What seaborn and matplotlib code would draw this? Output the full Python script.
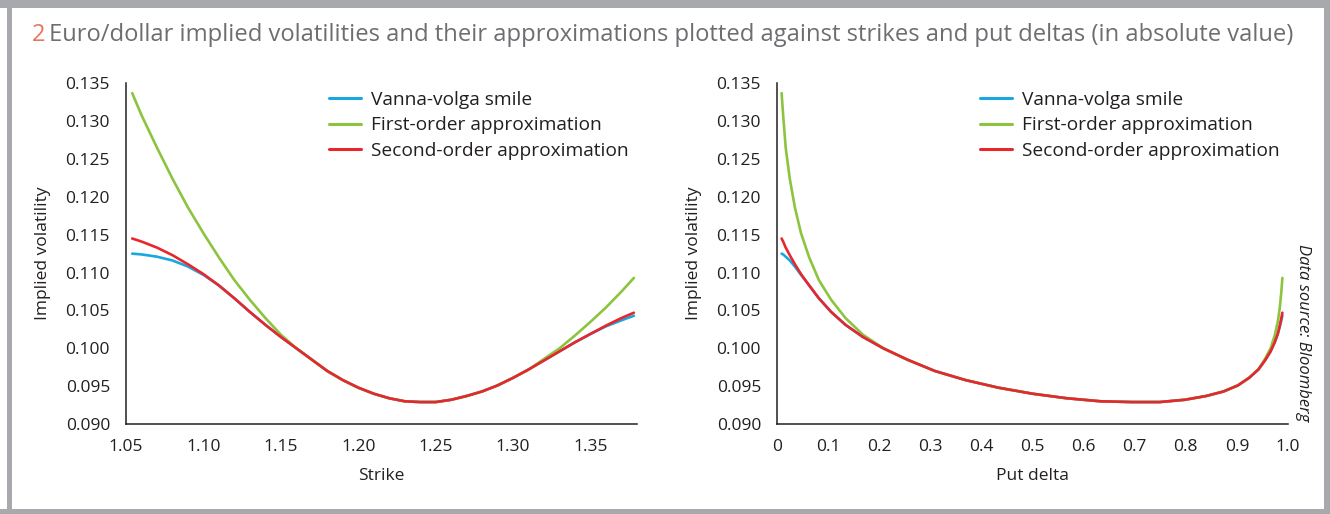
import matplotlib
matplotlib.use("Agg")
import matplotlib.pyplot as plt
from matplotlib.patches import Rectangle
import seaborn as sns
import pandas as pd

# ---- data ----
strikes = [1.054, 1.06, 1.07, 1.08, 1.09, 1.10, 1.11, 1.12, 1.13, 1.14, 1.15, 1.16,
           1.17, 1.18, 1.19, 1.20, 1.21, 1.22, 1.23, 1.24, 1.25, 1.26, 1.27, 1.28,
           1.29, 1.30, 1.31, 1.32, 1.33, 1.34, 1.35, 1.36, 1.37, 1.378]
put_deltas = [0.009, 0.012, 0.017, 0.025, 0.035, 0.047, 0.063, 0.082, 0.106, 0.134,
              0.168, 0.208, 0.255, 0.309, 0.369, 0.433, 0.500, 0.567, 0.633, 0.694,
              0.749, 0.798, 0.840, 0.874, 0.902, 0.924, 0.942, 0.955, 0.966, 0.974,
              0.980, 0.984, 0.987, 0.989]
vanna_volga = [0.1125, 0.1124, 0.1121, 0.1116, 0.1108, 0.1097, 0.1083, 0.1066, 0.1048,
               0.1031, 0.1015, 0.1000, 0.0985, 0.0970, 0.0958, 0.0948, 0.0940, 0.0934,
               0.0930, 0.0929, 0.0929, 0.0932, 0.0937, 0.0943, 0.0951, 0.0961, 0.0972,
               0.0984, 0.0996, 0.1008, 0.1019, 0.1029, 0.1037, 0.1043]
first_order = [0.1337, 0.1308, 0.1265, 0.1224, 0.1186, 0.1152, 0.1120, 0.1090, 0.1064,
               0.1040, 0.1018, 0.1000, 0.0985, 0.0970, 0.0958, 0.0948, 0.0940, 0.0934,
               0.0930, 0.0929, 0.0929, 0.0932, 0.0937, 0.0943, 0.0951, 0.0961, 0.0972,
               0.0986, 0.1000, 0.1017, 0.1035, 0.1054, 0.1075, 0.1093]
second_order = [0.1145, 0.1141, 0.1133, 0.1123, 0.1111, 0.1098, 0.1083, 0.1066, 0.1048,
                0.1031, 0.1015, 0.1000, 0.0985, 0.0970, 0.0958, 0.0948, 0.0940, 0.0934,
                0.0930, 0.0929, 0.0929, 0.0932, 0.0937, 0.0943, 0.0951, 0.0961, 0.0972,
                0.0984, 0.0996, 0.1008, 0.1019, 0.1030, 0.1040, 0.1047]
series_names = ["Vanna-volga smile", "First-order approximation", "Second-order approximation"]
series_colors = ["#1aa7e0", "#8cc43f", "#e8262b"]
strike_ticks = [1.05, 1.10, 1.15, 1.20, 1.25, 1.30, 1.35]
delta_ticks = [0, 0.1, 0.2, 0.3, 0.4, 0.5, 0.6, 0.7, 0.8, 0.9, 1.0]
delta_tick_labels = ["0", "0.1", "0.2", "0.3", "0.4", "0.5", "0.6", "0.7", "0.8", "0.9", "1.0"]
vol_ticks = [0.090, 0.095, 0.100, 0.105, 0.110, 0.115, 0.120, 0.125, 0.130, 0.135]
title_num = "2"
title_text = ("Euro/dollar implied volatilities and their approximations plotted against "
              "strikes and put deltas (in absolute value)")

# ---- build long table ----
rows = []
for name, vals in zip(series_names, [vanna_volga, first_order, second_order]):
    for k, d, v in zip(strikes, put_deltas, vals):
        rows.append({"Strike": k, "Put delta": d, "vol": v, "series": name})
df = pd.DataFrame(rows)

sns.set_theme(style="white")
plt.rcParams["font.family"] = ["Open Sans", "DejaVu Sans"]
INK = "#231f20"
plt.rcParams.update({"text.color": INK, "axes.labelcolor": INK,
                     "xtick.color": INK, "ytick.color": INK})

W, H = 1330, 514
fig = plt.figure(figsize=(W / 100, H / 100), dpi=100)
fig.patch.set_facecolor("white")

def px_axes(x0, x1, y0, y1):
    return fig.add_axes([x0 / W, 1 - y1 / H, (x1 - x0) / W, (y1 - y0) / H])

ax1 = px_axes(126, 637, 83.3, 424)
ax2 = px_axes(777, 1288, 83.3, 424)

palette = dict(zip(series_names, series_colors))
for ax, xcol in [(ax1, "Strike"), (ax2, "Put delta")]:
    sns.lineplot(data=df, x=xcol, y="vol", hue="series", hue_order=series_names,
                 palette=palette, sort=False, estimator=None, linewidth=1.9, ax=ax,
                 legend=True)
    ax.set_ylim(0.090, 0.135)
    ax.set_yticks(vol_ticks)
    ax.set_yticklabels([f"{t:.3f}" for t in vol_ticks])
    for s in ["top", "right"]:
        ax.spines[s].set_visible(False)
    for s in ["left", "bottom"]:
        ax.spines[s].set_color(INK)
        ax.spines[s].set_linewidth(1.1)
    ax.tick_params(axis="both", direction="out", length=5.5, width=1.0, colors=INK,
                   labelsize=12.5)
    ax.tick_params(axis="x", pad=5)
    ax.tick_params(axis="y", pad=6)
    ax.set_ylabel("Implied volatility", fontsize=12.5)
    ax.set_xlabel(xcol, fontsize=12.5)
    ax.yaxis.set_label_coords(-0.163, 0.5)
    ax.xaxis.set_label_coords(0.5, -0.153)
    ax.yaxis.label.set_va("center")
    ax.xaxis.label.set_va("center")
    leg = ax.legend(loc="upper left", bbox_to_anchor=(0.398, 0.978), frameon=False,
                    fontsize=13.8, handlelength=1.67, handletextpad=0.52,
                    labelspacing=0.40, borderaxespad=0.0, borderpad=0.0)
    for line in leg.get_lines():
        line.set_linewidth(2.2)
    ax.grid(False)

ax1.set_xlim(1.05, 1.38)
ax1.set_xticks(strike_ticks)
ax1.set_xticklabels([f"{t:.2f}" for t in strike_ticks])
ax2.set_xlim(0, 1.0)
ax2.set_xticks(delta_ticks)
ax2.set_xticklabels(delta_tick_labels)

# title
fig.text(32 / W, 1 - 35 / H, title_num, color="#e9745c", fontsize=17.1, va="center", ha="left")
fig.text(49 / W, 1 - 35 / H, title_text, color="#6d6e71", fontsize=17.1, va="center", ha="left")

# data source
fig.text(1303 / W, 1 - 333 / H, "Data source: Bloomberg", rotation=-90, style="italic",
         fontsize=12, va="center", ha="center", color=INK)

# grey frame
GREY = "#a7a9ac"
for (x0, y0, w, h) in [(0, 0, W, 8), (7, 0, 5, H), (1324, 0, 6, H), (0, 509, W, 5)]:
    fig.add_artist(Rectangle((x0 / W, 1 - (y0 + h) / H), w / W, h / H,
                             transform=fig.transFigure, facecolor=GREY, edgecolor="none"))

fig.savefig("out.png", dpi=100, facecolor="white")
